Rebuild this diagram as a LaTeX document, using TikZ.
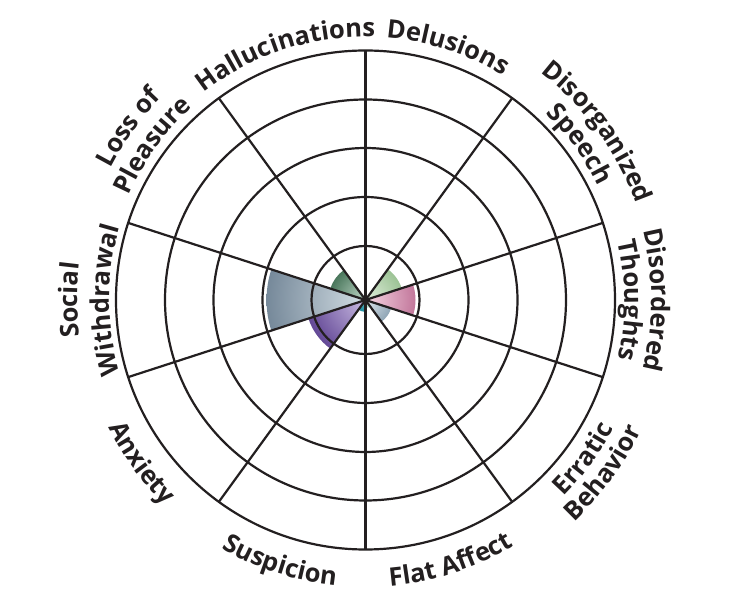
\documentclass[tikz,border=0pt]{standalone}
\usepackage{fontspec}
\newfontfamily\lblfam{Open Sans}
\usetikzlibrary{decorations.text,calc}
\definecolor{ink}{HTML}{231F20}
\definecolor{swOut}{HTML}{76899A}
\definecolor{swIn}{HTML}{D3DEE4}
\definecolor{axOut}{HTML}{634896}
\definecolor{axIn}{HTML}{CBBDE3}
\definecolor{lpOut}{HTML}{4A775C}
\definecolor{lpIn}{HTML}{C3DACB}
\definecolor{dsOut}{HTML}{9CC395}
\definecolor{dsIn}{HTML}{E2EEDD}
\definecolor{dtOut}{HTML}{C2779B}
\definecolor{dtIn}{HTML}{F6D6E3}
\definecolor{ebOut}{HTML}{8FA5B5}
\definecolor{ebIn}{HTML}{E0E8EE}
\definecolor{suOut}{HTML}{1E8C9E}
\definecolor{suIn}{HTML}{5FB6C2}
\definecolor{faOut}{HTML}{A9D8C6}
\definecolor{faIn}{HTML}{D8EFE6}
\newcommand\lblfont{\lblfam\bfseries\fontsize{25.5}{25.5}\selectfont\color{ink}}
\newcommand\toplbl[3]{\path[lbltext={#3}] ($(c)+(#1+60:#2)$) arc[start angle=#1+60, end angle=#1-60, radius=#2];}
\newcommand\botlbl[3]{\path[lbltext={#3}] ($(c)+(#1-60:#2)$) arc[start angle=#1-60, end angle=#1+60, radius=#2];}
\newcommand\datawedge[4]{% start angle, radius, inner, outer
  \begin{scope}
    \clip (c) -- ++(#1:#2) arc[start angle=#1, end angle=#1+36, radius=#2] -- cycle;
    \shade[inner color=#3, outer color=#4] (c) circle[radius=#2];
  \end{scope}}
\tikzset{
  gridline/.style={draw=ink, line width=2.2pt},
  lbltext/.style={decorate, decoration={text along path, text align=center, text={|\lblfont|#1}}}
}
\begin{document}
\begin{tikzpicture}[x=1pt,y=1pt]
\fill[white] (0,0) rectangle (732,600);
\useasboundingbox (0,0) rectangle (732,600);
\coordinate (c) at (365.5,300);
% data wedges
\datawedge{162}{99}{swIn}{swOut}
\datawedge{198}{60}{axIn}{axOut}
\datawedge{126}{37}{lpIn}{lpOut}
\datawedge{18}{38}{dsIn}{dsOut}
\datawedge{-18}{50}{dtIn}{dtOut}
\datawedge{-54}{27}{ebIn}{ebOut}
\datawedge{234}{12}{suIn}{suOut}
\datawedge{270}{8}{faIn}{faOut}
% rings
\foreach \r in {54,103,152,200.5,249.5} \draw[gridline] (c) circle[radius=\r];
% spokes
\foreach \a in {18,54,...,342} \draw[gridline] (c) -- ++(\a:249.5);
\fill[ink] (c) circle[radius=3];
% labels
\toplbl{108}{263}{Hallucinations}
\toplbl{72}{263}{Delusions}
\toplbl{36}{287}{Disorganized}
\toplbl{36}{259}{Speech}
\toplbl{0}{286}{Disordered}
\toplbl{0}{259}{Thoughts}
\toplbl{144}{287}{Loss of}
\toplbl{144}{259}{Pleasure}
\toplbl{180}{288}{Social}
\toplbl{180}{256}{Withdrawal}
\botlbl{-36}{279}{Erratic}
\botlbl{-36}{305}{Behavior}
\botlbl{216}{287}{Anxiety}
\botlbl{252}{287}{Suspicion}
\botlbl{288}{287}{Flat Affect}
\end{tikzpicture}
\end{document}
